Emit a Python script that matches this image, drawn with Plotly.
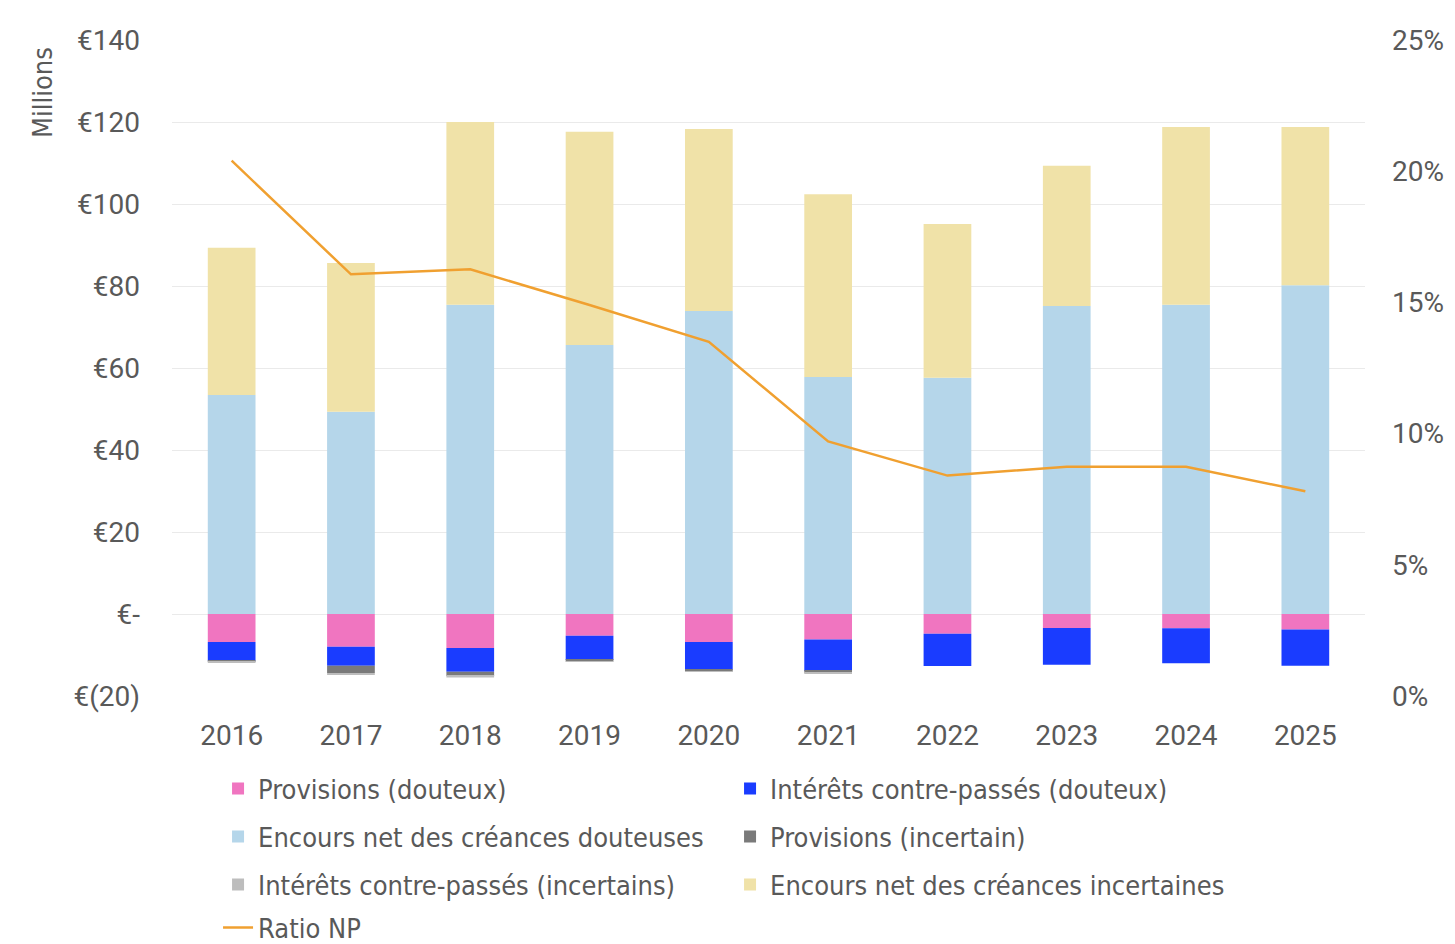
import plotly.graph_objects as go

years = ["2016", "2017", "2018", "2019", "2020", "2021", "2022", "2023", "2024", "2025"]

# Millions of euros
provisions_douteux = [-6.8, -8.0, -8.3, -5.3, -6.8, -6.2, -4.8, -3.4, -3.5, -3.8]
interets_douteux = [-4.6, -4.6, -5.8, -5.9, -6.8, -7.7, -7.9, -9.0, -8.5, -8.8]
encours_douteuses = [53.4, 49.3, 75.4, 65.6, 73.9, 57.8, 57.6, 75.1, 75.4, 80.2]
provisions_incertain = [-0.3, -1.8, -1.0, -0.4, -0.4, -0.4, 0.0, 0.0, 0.0, 0.0]
interets_incertains = [-0.1, -0.5, -0.4, -0.1, -0.1, -0.1, 0.0, 0.0, 0.0, 0.0]
encours_incertaines = [35.9, 36.3, 44.6, 52.0, 44.4, 44.6, 37.5, 34.2, 43.4, 38.6]

# Ratio NP (share)
ratio_np = [0.204, 0.1607, 0.1626, 0.149, 0.135, 0.097, 0.084, 0.0874, 0.0874, 0.078]

left_ticks = [-20, 0, 20, 40, 60, 80, 100, 120, 140]
left_tick_text = ["€(20)", "€-", "€20", "€40", "€60", "€80", "€100", "€120", "€140"]
right_ticks = [0, 0.05, 0.10, 0.15, 0.20, 0.25]
right_tick_text = ["0%", "5%", "10%", "15%", "20%", "25%"]

fig = go.Figure()

# (name, values, colour, legend row)
bar_series = [
    ("Provisions (douteux)", provisions_douteux, "#F075C0", "legend"),
    ("Intérêts contre-passés (douteux)", interets_douteux, "#1A3CFF", "legend"),
    ("Encours net des créances douteuses", encours_douteuses, "#B5D6EA", "legend2"),
    ("Provisions (incertain)", provisions_incertain, "#7A7A7A", "legend2"),
    ("Intérêts contre-passés (incertains)", interets_incertains, "#BDBDBD", "legend3"),
    ("Encours net des créances incertaines", encours_incertaines, "#F0E2A8", "legend3"),
]
for name, vals, color, leg in bar_series:
    fig.add_trace(go.Bar(x=years, y=vals, name=name, legend=leg,
                         marker=dict(color=color, line=dict(width=0)), yaxis="y"))

fig.add_trace(go.Scatter(x=years, y=ratio_np, name="Ratio NP", mode="lines", legend="legend4",
                         line=dict(color="#F0A030", width=2.5), yaxis="y2"))

tick_font = dict(family="Roboto", size=28, color="#595959")
legend_font = dict(family="DejaVu Sans Condensed, Roboto", size=27, color="#595959")


def legend_row(y):
    return dict(orientation="h", x=0.0386, xanchor="left", y=y, yanchor="middle",
                entrywidth=467, entrywidthmode="pixels", font=legend_font,
                itemwidth=30, traceorder="normal", bgcolor="rgba(0,0,0,0)")


fig.update_layout(
    width=1455, height=944,
    margin=dict(l=172, r=90, t=40, b=248, autoexpand=False),
    paper_bgcolor="white", plot_bgcolor="white",
    barmode="relative", bargap=0.6,
    font=dict(family="Roboto", color="#595959"),
    xaxis=dict(tickfont=tick_font, showgrid=False, showline=False, ticks="",
               ticklabelstandoff=20),
    yaxis=dict(range=[-20, 140], tickvals=left_ticks, ticktext=left_tick_text,
               tickfont=tick_font, showgrid=True, gridcolor="#EAEAEA", gridwidth=1,
               zeroline=False, ticks="", ticklabelstandoff=31),
    yaxis2=dict(range=[0, 0.25], tickvals=right_ticks, ticktext=right_tick_text,
                tickfont=tick_font, overlaying="y", side="right", showgrid=False,
                zeroline=False, ticks="", ticklabelstandoff=26),
    legend=legend_row(-0.1418),
    legend2=legend_row(-0.2149),
    legend3=legend_row(-0.2881),
    legend4=legend_row(-0.3535),
    annotations=[dict(text="Millions", xref="paper", yref="paper", x=-0.109, y=0.993,
                      xanchor="center", yanchor="top", textangle=-90, showarrow=False,
                      font=dict(family="DejaVu Sans Condensed, Roboto", size=27,
                                color="#595959"))],
)

fig.write_html("out.html")
